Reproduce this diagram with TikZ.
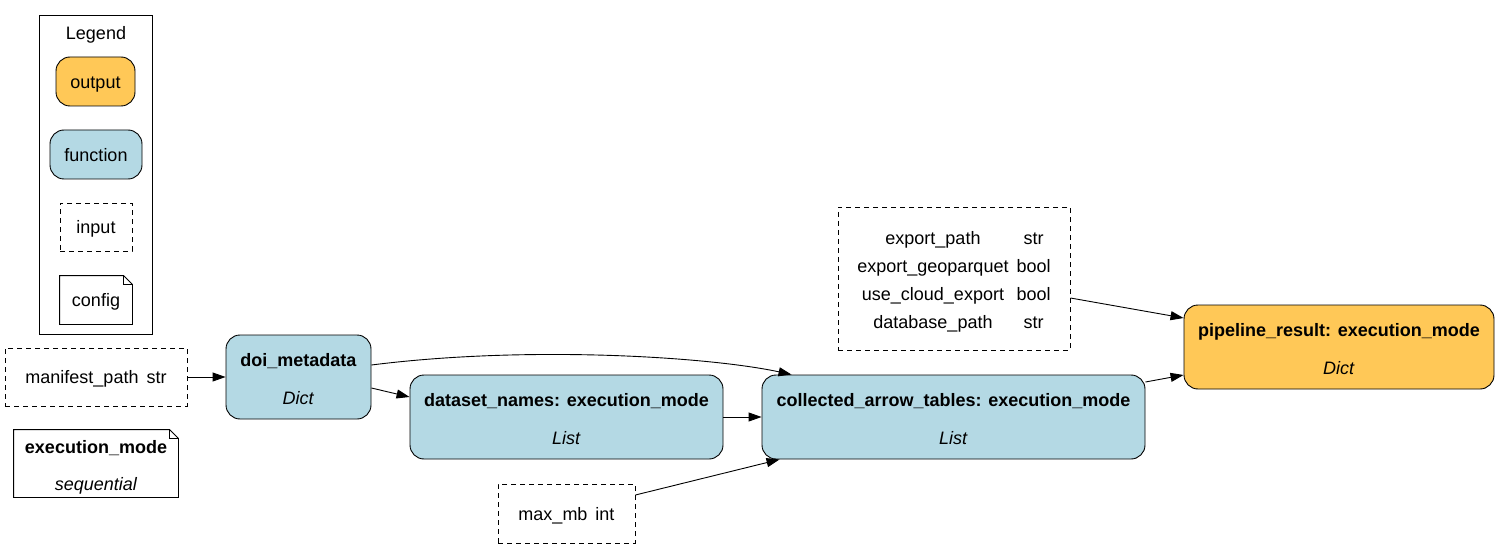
\documentclass[tikz,border=0pt]{standalone}
\usepackage{fontspec}
\setmainfont{Liberation Sans}
\usetikzlibrary{arrows.meta,calc}
\definecolor{outfill}{RGB}{255,200,87}
\definecolor{fnfill}{RGB}{180,217,228}
\newcommand{\dn}[1]{\raisebox{-2.5pt}[\height][\depth]{\begin{tabular}{@{}c@{}}#1\end{tabular}}}
\newcommand{\dnm}[1]{\raisebox{-4.5pt}[\height][\depth]{\begin{tabular}{@{}c@{}}#1\end{tabular}}}
\tikzset{
  base/.style={draw=black, line width=0.9pt, inner sep=0pt, align=center,
    font=\fontsize{18}{22}\selectfont},
  outbox/.style={base, fill=outfill, rounded corners=14pt},
  fnbox/.style={base, fill=fnfill, rounded corners=14pt},
  inbox/.style={base, dash pattern=on 5pt off 4pt},
  notebox/.style={base, draw=none},
  framebox/.style={base},
  conn/.style={line width=0.9pt, -{Triangle[length=13pt,width=9pt]}},
}
\newcommand{\notedraw}[1]{%
  \draw[line width=0.9pt] (#1.north west) -- ([xshift=-9pt]#1.north east) -- ([yshift=-9pt]#1.north east) -- (#1.south east) -- (#1.south west) -- cycle;
  \draw[line width=0.9pt] ([xshift=-9pt]#1.north east) -- ([xshift=-9pt,yshift=-9pt]#1.north east) -- ([yshift=-9pt]#1.north east);}
\begin{document}
\begin{tikzpicture}[x=1pt,y=-1pt]
\useasboundingbox (0,0) rectangle (1499,548);
% legend
\node[framebox, minimum width=113pt, minimum height=319pt] (legend) at (95.5,174.5) {};
\node[font=\fontsize{18}{22}\selectfont, inner sep=0pt] (legtitle) at (96,33) {\dn{Legend}};
\node[outbox, minimum width=79pt, minimum height=49pt] (legout) at (95.5,81.5) {\dn{output}};
\node[fnbox, minimum width=92pt, minimum height=49pt] (legfn) at (96,154.5) {\dn{function}};
\node[inbox, minimum width=72pt, minimum height=48pt] (legin) at (96,227) {\dn{input}};
\node[notebox, minimum width=72pt, minimum height=48pt] (legcfg) at (96,300) {\dn{config}};
\notedraw{legcfg}
% inputs
\node[inbox, minimum width=182pt, minimum height=58pt] (manifest) at (96,377) {\raisebox{-2.5pt}[\height][\depth]{\setlength\tabcolsep{4pt}\begin{tabular}{@{}cc@{}}manifest\_path & str\end{tabular}}};
\node[notebox, minimum width=164pt, minimum height=67pt] (execmode) at (96,463.5) {\dnm{\textbf{execution\_mode}\\[15pt]\textit{sequential}}};
\notedraw{execmode}
\node[inbox, minimum width=137pt, minimum height=59pt] (maxmb) at (566.5,513.5) {\raisebox{-2.5pt}[\height][\depth]{\setlength\tabcolsep{4pt}\begin{tabular}{@{}cc@{}}max\_mb & int\end{tabular}}};
\node[inbox, minimum width=232pt, minimum height=143pt] (cfg) at (954,278.5) {\fontsize{18}{28}\selectfont\raisebox{-2.5pt}[\height][\depth]{\setlength\tabcolsep{4pt}\begin{tabular}{@{}cc@{}}export\_path & str\\ export\_geoparquet & bool\\ use\_cloud\_export & bool\\ database\_path & str\end{tabular}}};
% functions
\node[fnbox, minimum width=145pt, minimum height=84pt] (doi) at (298.5,377) {\dnm{\textbf{doi\_metadata}\\[16pt]\textit{Dict}}};
\node[fnbox, minimum width=313pt, minimum height=84pt] (dataset) at (566.5,417) {\dnm{\textbf{dataset\_names: execution\_mode}\\[16pt]\textit{List}}};
\node[fnbox, minimum width=383pt, minimum height=84pt] (collected) at (953.5,417) {\dnm{\textbf{collected\_arrow\_tables: execution\_mode}\\[16pt]\textit{List}}};
\node[outbox, minimum width=310pt, minimum height=84pt] (pipeline) at (1339,347) {\dnm{\textbf{pipeline\_result: execution\_mode}\\[16pt]\textit{Dict}}};
% connectors
\draw[conn] (manifest.east) -- (doi.west);
\draw[conn] ([yshift=-11pt]doi.east) -- ([yshift=20pt]dataset.west);
\draw[conn] ([yshift=12pt]doi.east) .. controls (530,345) and (710,357) .. ([xshift=30pt]collected.north west);
\draw[conn] (dataset.east) -- (collected.west);
\draw[conn] ([yshift=18.5pt]maxmb.east) -- ([xshift=18pt]collected.south west);
\draw[conn] ([yshift=-19.5pt]cfg.east) -- ([yshift=29pt]pipeline.west);
\draw[conn] ([yshift=35pt]collected.east) -- ([yshift=-28pt]pipeline.west);
\end{tikzpicture}
\end{document}
